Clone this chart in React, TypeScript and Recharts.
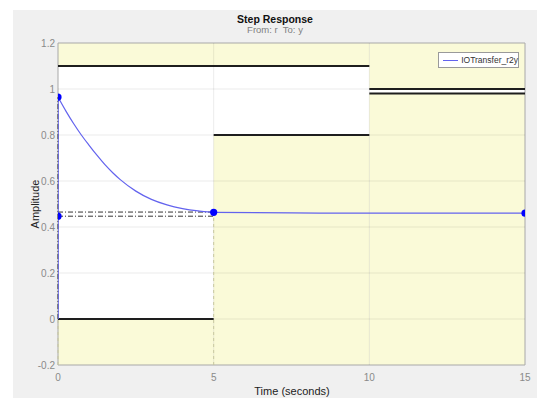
import React from 'react';
import {
  ComposedChart,
  Line,
  Scatter,
  XAxis,
  YAxis,
  ReferenceArea,
  ReferenceLine,
} from 'recharts';

// axis ticks
const timeTicks = [0, 5, 10, 15];
const ampTicks = [-0.2, 0, 0.2, 0.4, 0.6, 0.8, 1, 1.2];

// step response
const responseTime = [0, 0.25, 0.5, 0.75, 1, 1.25, 1.5, 1.75, 2, 2.5, 3, 3.5, 4, 4.5, 5, 7.5, 10, 12.5, 15];
const responseAmp = [
  0.965, 0.905, 0.85, 0.8, 0.755, 0.712, 0.672, 0.637, 0.606, 0.556, 0.52, 0.496, 0.48, 0.47, 0.464, 0.461, 0.46,
  0.46, 0.46,
];

// characteristic markers (blue dots)
const markerTime = [0, 0, 5, 15];
const markerAmp = [0.965, 0.447, 0.464, 0.46];

// step bound constraints
const upperStart = [0, 10];
const upperEnd = [10, 15];
const upperValue = [1.1, 1.0];
const lowerStart = [0, 5, 10];
const lowerEnd = [5, 10, 15];
const lowerValue = [0, 0.8, 0.98];

// settling band lines
const settleAmp = [0.465, 0.447];
const settleTime = 5;

const responseData = responseTime.map((t, i) => ({ t, v: responseAmp[i] }));
const stepData = [
  { t: 0, v: 0 },
  { t: 0, v: responseAmp[0] },
];
const markerData = markerTime.map((t, i) => ({ t, v: markerAmp[i] }));

const yellow = '#fafad8';
const blue = '#6363ee';
const font = '"Liberation Sans", Arial, sans-serif';
const tickStyle = { fontSize: 10, fill: '#8a8a8a', fontFamily: font };

const fmt = (v: number) => String(Math.round(v * 10) / 10);

const Dot = (props: any) => <circle cx={props.cx} cy={props.cy} r={3.6} fill="#0000ff" />;

const App: React.FC = () => {
  return (
    <div style={{ position: 'absolute', left: 0, top: 0, width: 550, height: 408, background: '#fff' }}>
      {/* grey figure panel */}
      <div
        style={{
          position: 'absolute',
          left: 13,
          top: 10,
          width: 524,
          height: 388,
          background: '#f0f0f0',
        }}
      />
      <div
        style={{
          position: 'absolute',
          left: 0,
          width: 550,
          top: 13,
          lineHeight: '12px',
          textAlign: 'center',
          fontFamily: font,
          fontWeight: 700,
          fontSize: 10.5,
          color: '#111',
        }}
      >
        Step Response
      </div>
      <div
        style={{
          position: 'absolute',
          left: 0,
          width: 550,
          top: 24,
          lineHeight: '11px',
          textAlign: 'center',
          fontFamily: font,
          fontSize: 9.5,
          color: '#808080',
        }}
      >
        From: r&nbsp; To: y
      </div>

      <div style={{ position: 'absolute', left: 0, top: 0 }}>
        <ComposedChart width={550} height={408} margin={{ top: 43, right: 25, bottom: 13, left: 13 }}>
          <XAxis
            dataKey="t"
            type="number"
            domain={[0, 15]}
            ticks={timeTicks}
            height={30}
            axisLine={false}
            tickLine={false}
            tickSize={6}
            tickMargin={3}
            tick={tickStyle}
            allowDataOverflow
          />
          <YAxis
            dataKey="v"
            type="number"
            domain={[-0.2, 1.2]}
            ticks={ampTicks}
            width={45}
            axisLine={false}
            tickLine={false}
            tickSize={1}
            tickMargin={2}
            tick={tickStyle}
            tickFormatter={fmt}
            allowDataOverflow
          />

          {/* white plot background */}
          <ReferenceArea x1={0} x2={15} y1={-0.2} y2={1.2} fill="#ffffff" fillOpacity={1} stroke="none" />

          {/* constraint regions */}
          {upperStart.map((s, i) => (
            <ReferenceArea
              key={'ua' + i}
              x1={s}
              x2={upperEnd[i]}
              y1={upperValue[i]}
              y2={1.2}
              fill={yellow}
              fillOpacity={1}
              stroke="none"
            />
          ))}
          {lowerStart.map((s, i) => (
            <ReferenceArea
              key={'la' + i}
              x1={s}
              x2={lowerEnd[i]}
              y1={-0.2}
              y2={lowerValue[i]}
              fill={yellow}
              fillOpacity={1}
              stroke="none"
            />
          ))}

          {/* grid */}
          {timeTicks.slice(1, -1).map((t) => (
            <ReferenceLine key={'gx' + t} x={t} stroke="#000" strokeOpacity={0.08} />
          ))}
          {ampTicks.slice(1, -1).map((a) => (
            <ReferenceLine key={'gy' + a} y={a} stroke="#000" strokeOpacity={0.08} />
          ))}

          {/* constraint edges */}
          {upperStart.map((s, i) => (
            <ReferenceLine
              key={'ul' + i}
              segment={[
                { x: s, y: upperValue[i] },
                { x: upperEnd[i], y: upperValue[i] },
              ]}
              stroke="#1e1e1e"
              strokeWidth={2}
            />
          ))}
          {lowerStart.map((s, i) => (
            <ReferenceLine
              key={'ll' + i}
              segment={[
                { x: s, y: lowerValue[i] },
                { x: lowerEnd[i], y: lowerValue[i] },
              ]}
              stroke="#1e1e1e"
              strokeWidth={2}
            />
          ))}

          {/* settling band */}
          {settleAmp.map((a, i) => (
            <ReferenceLine
              key={'st' + i}
              segment={[
                { x: 0, y: a },
                { x: settleTime, y: a },
              ]}
              stroke="#333"
              strokeDasharray="5 2 1 2"
            />
          ))}
          <ReferenceLine
            segment={[
              { x: 0, y: 0 },
              { x: 0, y: responseAmp[0] },
            ]}
            stroke="#333"
            strokeDasharray="5 2 1 2"
          />
          <ReferenceLine
            segment={[
              { x: settleTime, y: -0.2 },
              { x: settleTime, y: markerAmp[2] },
            ]}
            stroke="#c9c9a0"
            strokeDasharray="3 3"
          />
          <ReferenceLine
            segment={[
              { x: 0, y: -0.2 },
              { x: 0, y: 0 },
            ]}
            stroke="#c9c9a0"
            strokeDasharray="3 3"
          />

          {/* plot border */}
          <ReferenceArea x1={0} x2={15} y1={-0.2} y2={1.2} fill="none" stroke="#a8a8a8" strokeWidth={1} />

          <Line
            data={stepData}
            dataKey="v"
            type="linear"
            stroke={blue}
            strokeWidth={1.5}
            dot={false}
            isAnimationActive={false}
          />
          <Line
            data={responseData}
            dataKey="v"
            type="monotone"
            stroke={blue}
            strokeWidth={1.2}
            dot={false}
            isAnimationActive={false}
          />
          <Scatter data={markerData} dataKey="v" shape={Dot} isAnimationActive={false} />
        </ComposedChart>
      </div>

      {/* axis labels */}
      <div
        style={{
          position: 'absolute',
          left: 232,
          width: 120,
          top: 385,
          lineHeight: '12px',
          textAlign: 'center',
          fontFamily: font,
          fontSize: 11,
          color: '#222',
        }}
      >
        Time (seconds)
      </div>
      <div
        style={{
          position: 'absolute',
          left: 35,
          top: 204,
          transform: 'translate(-50%, -50%) rotate(-90deg)',
          fontFamily: font,
          fontSize: 11,
          color: '#222',
          whiteSpace: 'nowrap',
        }}
      >
        Amplitude
      </div>

      {/* legend */}
      <div
        style={{
          position: 'absolute',
          left: 438,
          top: 52,
          width: 79,
          height: 14,
          border: '1px solid #9a9a9a',
          background: '#fff',
          display: 'flex',
          alignItems: 'center',
          fontFamily: font,
          fontSize: 8.5,
          color: '#333',
        }}
      >
        <span style={{ display: 'inline-block', width: 20, height: 1, background: blue, margin: '0 3px 0 4px' }} />
        IOTransfer_r2y
      </div>
    </div>
  );
};

export default App;
